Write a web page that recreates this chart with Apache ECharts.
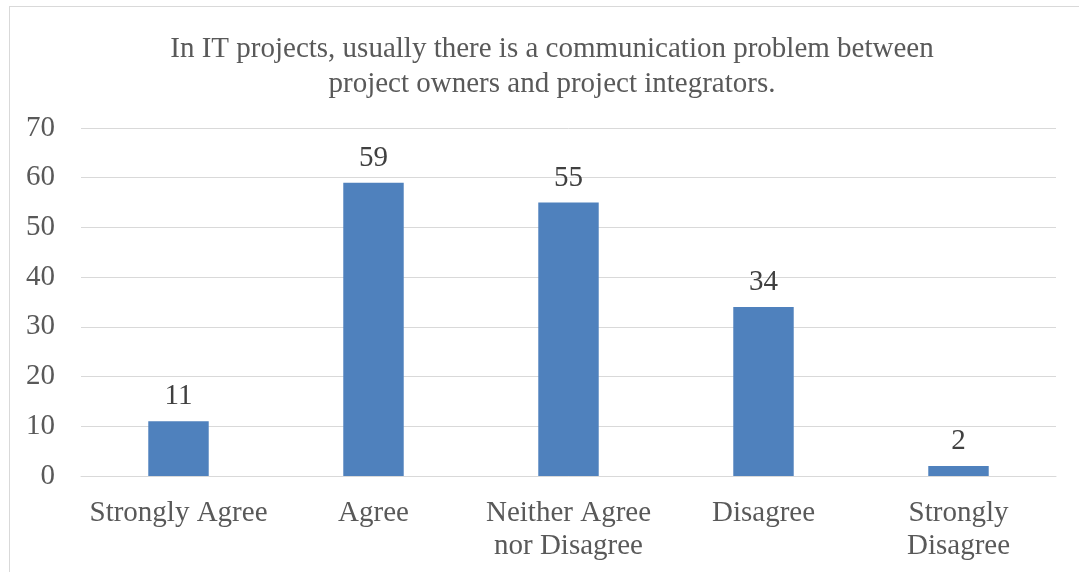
<!DOCTYPE html>
<html>
<head>
<meta charset="utf-8">
<script src="https://cdn.jsdelivr.net/npm/echarts@6/dist/echarts.min.js"></script>
<style>
html,body{margin:0;padding:0;background:#fff;}
#frame{position:absolute;left:9px;top:6px;width:1080px;height:580px;border:1px solid #d9d9d9;box-sizing:border-box;}
#c{position:absolute;left:0;top:0;width:1079px;height:572px;}
</style>
</head>
<body>
<div id="frame"></div>
<div id="c"></div>
<script>
const titleText = "In IT projects, usually there is a communication problem between\nproject owners and project integrators.";
const categories = ["Strongly Agree", "Agree", "Neither Agree\nnor Disagree", "Disagree", "Strongly\nDisagree"];
const values = [11, 59, 55, 34, 2];
const yTicks = [0, 10, 20, 30, 40, 50, 60, 70];

const font = "'Liberation Serif', 'Times New Roman', serif";
const chart = echarts.init(document.getElementById('c'), null, {renderer: 'canvas'});
chart.setOption({
  animation: false,
  title: {
    text: titleText,
    left: 547,
    textAlign: 'center',
    top: 27,
    textStyle: {fontFamily: font, fontSize: 29, fontWeight: 'normal', color: '#595959', lineHeight: 35}
  },
  grid: {left: 81, right: 23, top: 128, bottom: 96, containLabel: false},
  xAxis: {
    type: 'category',
    data: categories,
    axisLine: {show: true, lineStyle: {color: '#d9d9d9', width: 1}},
    axisTick: {show: false},
    axisLabel: {fontFamily: font, fontSize: 29, color: '#595959', lineHeight: 33, margin: 21, interval: 0}
  },
  yAxis: {
    type: 'value',
    min: 0, max: 70, interval: 10,
    axisLine: {show: false},
    axisTick: {show: false},
    splitLine: {lineStyle: {color: '#d9d9d9', width: 1}},
    axisLabel: {fontFamily: font, fontSize: 29, color: '#595959', margin: 26,
      formatter: v => yTicks.includes(v) ? String(v) : ''}
  },
  series: [{
    type: 'bar',
    data: values,
    barWidth: '31%',
    itemStyle: {color: '#4f81bd'},
    label: {show: true, position: 'top', distance: 10, fontFamily: font, fontSize: 29, color: '#404040'}
  }]
});
</script>
</body>
</html>
